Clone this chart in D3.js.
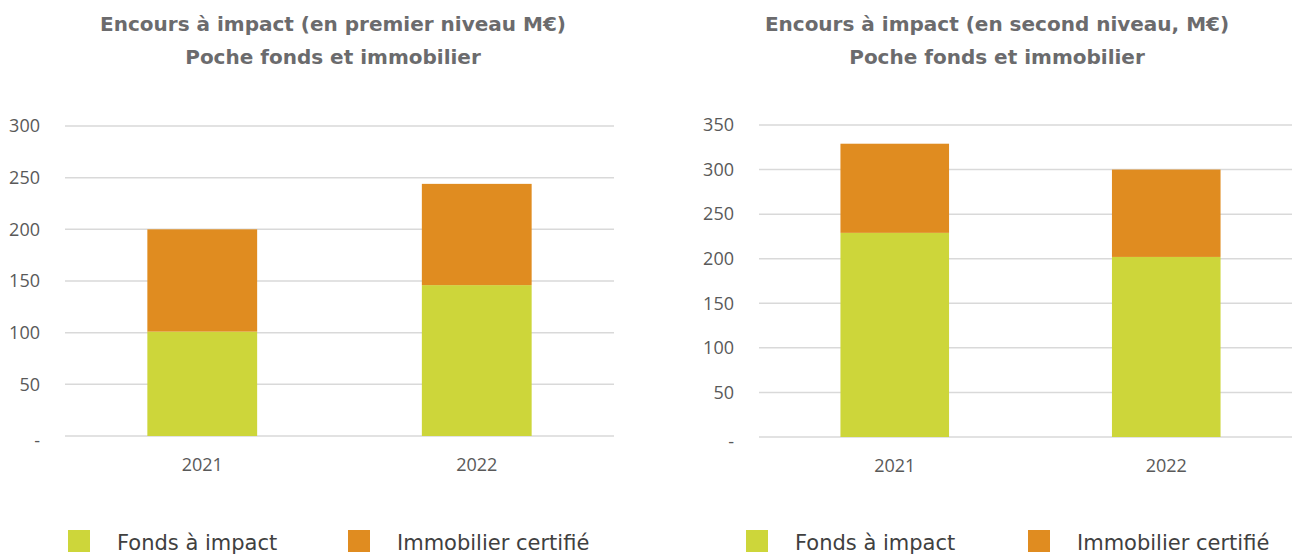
<!DOCTYPE html>
<html lang="fr">
<head>
<meta charset="UTF-8">
<title>Encours à impact</title>
<script src="https://cdn.jsdelivr.net/npm/d3@7/dist/d3.min.js"></script>
<style>
  body { margin: 0; background: #fff; }
  svg { display: block; }
  .title { font-family: "DejaVu Sans", sans-serif; font-weight: bold; font-size: 20px; fill: #6b6b6d; }
  .tick text { font-family: "Open Sans", sans-serif; font-size: 18px; fill: #595959; }
  .legend text { font-family: "DejaVu Sans", sans-serif; font-size: 21px; fill: #404040; }
</style>
</head>
<body>
<div id="chart"></div>
<script>
// données
var years = ["2021", "2022"];
var seriesNames = ["Fonds à impact", "Immobilier certifié"];
var colors = ["#cdd63a", "#e08c20"];

var premierFonds = [101, 146];
var premierImmo = [99, 98];
var secondFonds = [229, 202];
var secondImmo = [100, 98];

var premierTicks = [0, 50, 100, 150, 200, 250, 300];
var secondTicks = [0, 50, 100, 150, 200, 250, 300, 350];

var W = 1292, H = 555;
var svg = d3.select("#chart").append("svg").attr("width", W).attr("height", H);

// un panneau par graphique
var panels = [
  { titre: ["Encours à impact (en premier niveau M€)", "Poche fonds et immobilier"],
    fonds: premierFonds, immo: premierImmo, ticks: premierTicks,
    x0: 65, x1: 614, yTop: 126, yBottom: 436, center: 333,
    legend: [68, 348] },
  { titre: ["Encours à impact (en second niveau, M€)", "Poche fonds et immobilier"],
    fonds: secondFonds, immo: secondImmo, ticks: secondTicks,
    x0: 759, x1: 1302, yTop: 125, yBottom: 437, center: 997,
    legend: [746, 1028] }
];

panels.forEach(function(p) {
  var g = svg.append("g");

  // titre
  g.selectAll(".title").data(p.titre).enter().append("text")
    .attr("class", "title")
    .attr("x", p.center)
    .attr("y", function(d, i) { return 31 + i * 33; })
    .attr("text-anchor", "middle")
    .text(function(d) { return d; });

  var x = d3.scaleBand().domain(years).range([p.x0, p.x1])
    .paddingInner(0.6).paddingOuter(0.3);
  var yMax = d3.max(p.ticks);
  var y = d3.scaleLinear().domain([0, yMax]).range([p.yBottom, p.yTop]);

  // grille
  g.selectAll(".grid").data(p.ticks).enter().append("line")
    .attr("x1", p.x0).attr("x2", p.x1)
    .attr("y1", function(d) { return y(d); })
    .attr("y2", function(d) { return y(d); })
    .attr("stroke", "#d9d9d9").attr("stroke-width", 1.5);

  // axe y
  var yAxis = g.append("g")
    .attr("transform", "translate(" + (p.x0 - 25) + ",0)")
    .call(d3.axisLeft(y).tickValues(p.ticks).tickSize(0).tickPadding(0)
      .tickFormat(function(d) { return d === 0 ? "-" : d; }));
  yAxis.select(".domain").remove();
  yAxis.selectAll(".tick text").filter(function(d) { return d === 0; }).attr("dy", "0.6em");

  // axe x
  var xAxis = g.append("g")
    .attr("transform", "translate(0," + p.yBottom + ")")
    .call(d3.axisBottom(x).tickSize(0).tickPadding(0));
  xAxis.select(".domain").remove();
  xAxis.selectAll(".tick text").attr("y", 35).attr("dy", 0);

  // barres empilées
  var rows = years.map(function(yr, i) { return { year: yr, fonds: p.fonds[i], immo: p.immo[i] }; });
  var stack = d3.stack().keys(["fonds", "immo"])(rows);
  g.selectAll(".serie").data(stack).enter().append("g")
    .attr("fill", function(d, i) { return colors[i]; })
    .selectAll("rect").data(function(d) { return d; }).enter().append("rect")
    .attr("x", function(d) { return x(d.data.year); })
    .attr("width", x.bandwidth())
    .attr("y", function(d) { return y(d[1]); })
    .attr("height", function(d) { return y(d[0]) - y(d[1]); });

  // légende
  var leg = g.append("g").attr("class", "legend");
  var item = leg.selectAll("g").data(seriesNames).enter().append("g")
    .attr("transform", function(d, i) { return "translate(" + p.legend[i] + ",530)"; });
  item.append("rect").attr("width", 22).attr("height", 22)
    .attr("fill", function(d, i) { return colors[i]; });
  item.append("text").attr("x", 49).attr("y", 20).text(function(d) { return d; });
});
</script>
</body>
</html>
